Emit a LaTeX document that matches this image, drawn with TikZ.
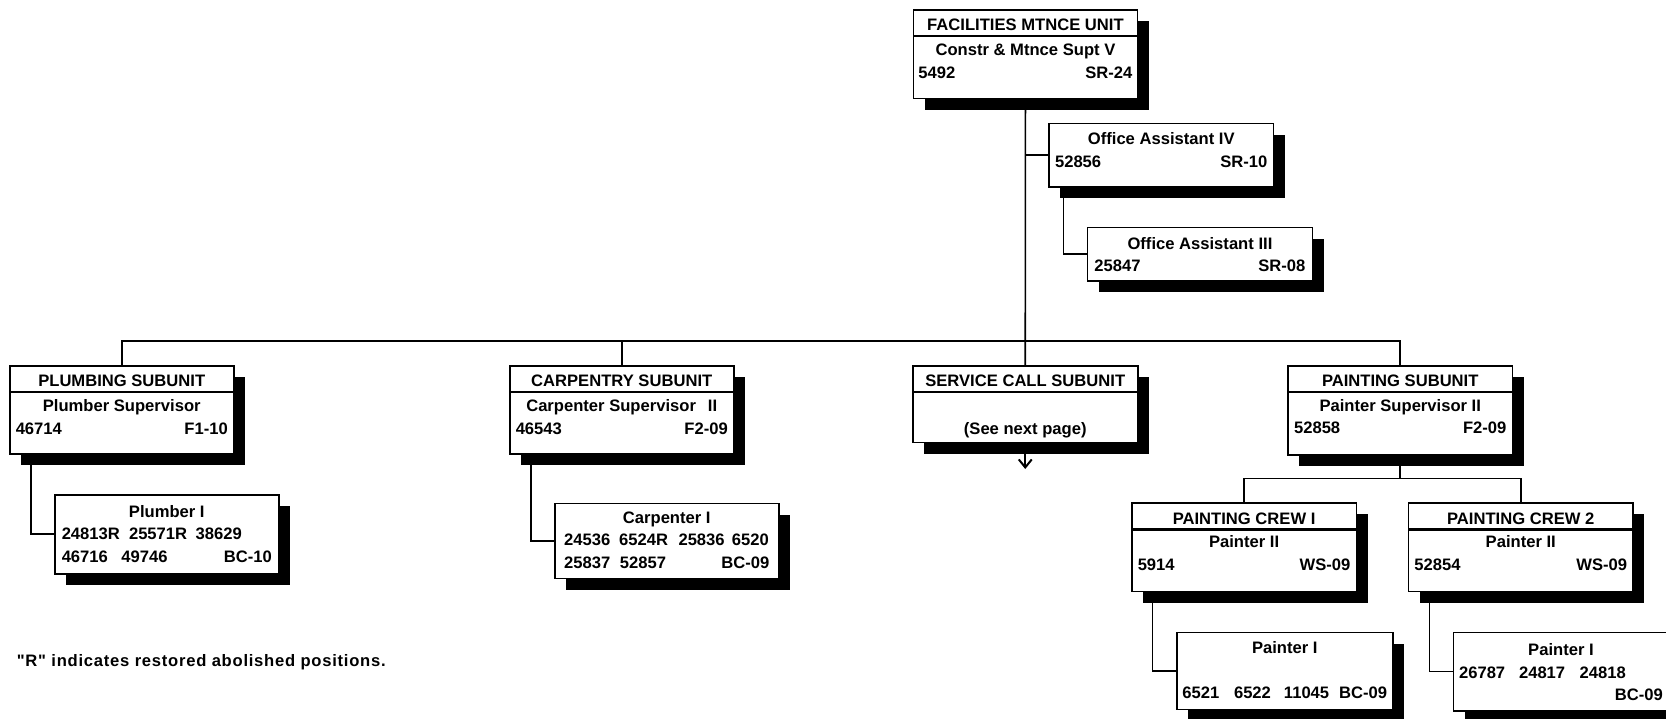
\documentclass[tikz,border=0pt]{standalone}
\usepackage{fontspec}
\setmainfont{Liberation Sans}[Ligatures=TeXOff]
\usetikzlibrary{shadows,arrows.meta}

% box body: width, height, first baseline, rows
\newcommand{\unitbody}[4]{\vbox to #2pt{\hsize=#1pt\baselineskip=22.5pt\lineskiplimit=-100pt
  \kern\dimexpr#3pt-22.5pt\relax\hbox{}#4\vss}}
\newcommand{\rowc}[1]{\hbox to\hsize{\hfil#1\hfil}}
\newcommand{\rowlr}[3][6]{\hbox to\hsize{\hskip#1pt#2\hfil#3\hskip#1pt}}
\newcommand{\colat}[2]{\makebox[0pt][l]{\hspace*{#1pt}#2}}

\tikzset{
  unit/.style={draw, line width=1.5pt, fill=white, anchor=north west, inner sep=0pt,
    font=\fontsize{16.6}{22.5}\selectfont\bfseries,
    drop shadow={shadow xshift=11.3pt, shadow yshift=-11.3pt, fill=black, opacity=1}},
  titled/.style={path picture={\draw[line width=2.2pt]
    ([yshift=-#1pt]path picture bounding box.north west) --
    ([yshift=-#1pt]path picture bounding box.north east);}},
  titled/.default=26.5,
  link/.style={line width=1.6pt},
  note/.style={inner sep=0pt, anchor=base west,
    font=\fontsize{16.6}{20}\selectfont\bfseries\addfontfeature{LetterSpace=4.5}},
}

\begin{document}
\begin{tikzpicture}[x=1pt,y=-1pt]
\useasboundingbox (0,0) rectangle (1666,718);
\clip (0,0) rectangle (1666,718);
\fill[white] (0,0) rectangle (1666,718);

% top of the unit
\node[unit, titled] (fmu) at (912.7,9) {\unitbody{224}{88.7}{21}{\rowc{FACILITIES MTNCE UNIT}\kern2.5pt
  \rowc{Constr \& Mtnce Supt V}\rowlr[5]{5492}{SR-24}}};
\node[unit] (oa4) at (1048.3,122.7) {\unitbody{224.4}{63.3}{21.3}{\rowc{Office Assistant IV}\rowlr{52856}{SR-10}}};
\node[unit] (oa3) at (1086.7,226.7) {\unitbody{225}{53.3}{21.7}{\rowc{Office Assistant III}\rowlr[7]{25847}{SR-08}}};

% subunits
\node[unit, titled] (plumb) at (9,365) {\unitbody{224}{88}{21}{\rowc{PLUMBING SUBUNIT}\kern2.5pt
  \rowc{Plumber Supervisor}\rowlr{46714}{F1-10}}};
\node[unit] (plumb1) at (54,494) {\unitbody{224}{79}{22.7}{\rowc{Plumber I}
  \rowlr[7]{\colat{0}{24813R}\colat{67.3}{25571R}\colat{134}{38629}}{}
  \rowlr[7]{\colat{0}{46716}\colat{59.7}{49746}}{BC-10}}};

\node[unit, titled] (carp) at (509,365) {\unitbody{224}{88}{21}{\rowc{CARPENTRY SUBUNIT}\kern2.5pt
  \rowc{Carpenter Supervisor\hskip12pt II}\rowlr{46543}{F2-09}}};
\node[unit] (carp1) at (554,502.7) {\unitbody{224}{75}{20}{\rowc{Carpenter I}
  \rowlr[9.4]{\colat{0}{24536}\colat{55}{6524R}\colat{114.4}{25836}\colat{167.7}{6520}}{}
  \rowlr[9.4]{\colat{0}{25837}\colat{55.7}{52857}}{BC-09}}};

\node[unit, titled] (svc) at (912,365) {\unitbody{225}{76.7}{21}{\rowc{SERVICE CALL SUBUNIT}\kern2.5pt
  \hbox{}\rowc{(See next page)}}};

\node[unit, titled] (paint) at (1287.3,365) {\unitbody{224.4}{89}{20.7}{\rowc{PAINTING SUBUNIT}\kern2.5pt
  \rowc{Painter Supervisor II}\rowlr{52858}{F2-09}}};
\node[unit, titled] (crew1) at (1131,502.3) {\unitbody{224.7}{88.4}{21}{\rowc{PAINTING CREW I}\kern1pt
  \rowc{Painter II}\rowlr{5914}{WS-09}}};
\node[unit, titled] (crew2) at (1407.7,502.3) {\unitbody{224.6}{88.4}{21}{\rowc{PAINTING CREW 2}\kern1pt
  \rowc{Painter II}\rowlr{52854}{WS-09}}};
\node[unit] (pnt1a) at (1176,631.7) {\unitbody{216}{77}{21}{\rowc{Painter I}\hbox{}
  \rowlr[5.7]{\colat{0}{6521}\colat{51.6}{6522}\colat{101.5}{11045}}{BC-09}}};
\node[unit] (pnt1b) at (1452.7,631.7) {\unitbody{215}{78.3}{23.3}{\rowc{Painter I}
  \rowlr[5.6]{\colat{0}{26787}\colat{60}{24817}\colat{120.7}{24818}}{}
  \rowlr[5.6]{}{BC-09}}};

\node[note] (note) at (16.7,666.7) {"R" indicates restored abolished positions.};

% connectors
\coordinate (bus) at (fmu.south |- 0,341);
\coordinate (pbus) at (paint.south |- 0,478.3);
\coordinate (next) at (svc.south |- 0,469);
\draw[link] (fmu.south) -- (svc.north);
\draw[link] (oa4.west) -- (oa4.west -| fmu.south);
\draw[link] ([xshift=15pt]oa4.south west) |- (oa3.west);
\draw[link] (plumb.north) |- (bus) -| (paint.north);
\draw[link] (carp.north) -- (carp.north |- bus);
\draw[link] ([xshift=22pt]plumb.south west) |- (plumb1.west);
\draw[link] ([xshift=22pt]carp.south west) |- (carp1.west);
\draw[link] (paint.south) -- (pbus);
\draw[link] (crew1.north) |- (pbus) -| (crew2.north);
\draw[link] ([xshift=21.3pt]crew1.south west) |- (pnt1a.west);
\draw[link] ([xshift=21.6pt]crew2.south west) |- (pnt1b.west);
\draw[link, -{Straight Barb[length=8pt,width=13pt,line width=2pt]}] (svc.south) -- (next);
\end{tikzpicture}
\end{document}
